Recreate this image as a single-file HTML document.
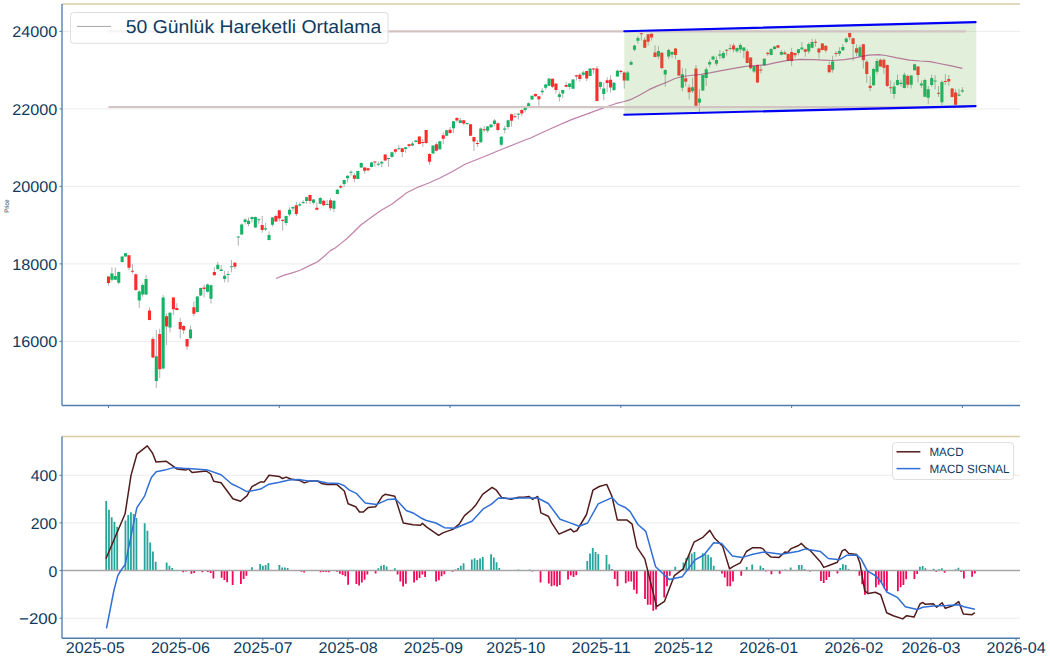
<!DOCTYPE html>
<html><head><meta charset="utf-8"><style>
html,body{margin:0;padding:0;background:#fff;width:1050px;height:660px;overflow:hidden}
svg{display:block}
text{font-family:"Liberation Sans",sans-serif;text-rendering:geometricPrecision}
</style></head><body>
<svg width="1050" height="660" viewBox="0 0 1050 660">
<rect width="1050" height="660" fill="#fff"/>

<line x1="62.0" y1="31.4" x2="1020.0" y2="31.4" stroke="#ebebeb" stroke-width="1"/>
<line x1="62.0" y1="108.9" x2="1020.0" y2="108.9" stroke="#ebebeb" stroke-width="1"/>
<line x1="62.0" y1="186.4" x2="1020.0" y2="186.4" stroke="#ebebeb" stroke-width="1"/>
<line x1="62.0" y1="263.9" x2="1020.0" y2="263.9" stroke="#ebebeb" stroke-width="1"/>
<line x1="62.0" y1="341.35" x2="1020.0" y2="341.35" stroke="#ebebeb" stroke-width="1"/>
<path d="M108.5 276V285.5M111.92 267.3V281.4M115.33 267.7V280M118.75 271.5V284.1M122.16 256V262.5M125.58 252.8V256.8M128.99 255V270M132.41 264.1V273.6M135.82 273.6V290.9M139.24 290V308M142.66 283.2V296.8M146.07 275V295M149.49 307.3V320.3M152.9 336.7V358.2M156.32 329.9V388.1M159.73 328.7V378M163.15 294.9V369.3M166.57 313.6V345.1M169.98 312V332.4M173.4 296.9V315.2M176.81 303.3V310.5M180.23 318V338.3M183.64 325V334M187.06 339V349.8M190.47 325.6V339.3M193.89 301.4V316.2M197.31 296V312.5M200.72 287.5V296M204.14 284.5V297.5M207.55 283.5V292.5M210.97 284.5V303.7M214.38 267.2V275.5M217.8 261.9V270.1M221.21 265V271M224.63 270.9V282.4M228.05 271V282.5M231.46 260V272.3M234.88 262V268.9M238.29 236.1V245.7M241.71 223.5V235M245.12 218.4V224.5M248.54 217.5V226.2M251.96 216.6V222.5M255.37 216.5V228M258.79 218.4V223.9M262.2 216V232.7M265.62 223V231M269.03 231.5V240.4M272.45 217V226.7M275.86 214.5V222M279.28 210.3V221.4M282.7 219.3V230.7M286.11 215.6V225.6M289.53 207.4V216.6M292.94 206.5V210.8M296.36 201.8V216.1M299.77 202.3V206.5M303.19 200.2V203.9M306.6 196.5V203.9M310.02 194.6V203.9M313.44 199V204.5M316.85 202.3V210.2M320.27 197V204.3M323.68 199.8V206.2M327.1 199.8V205.2M330.51 198V210.7M333.93 200.3V212.1M337.35 189V194.4M340.76 184.6V189M344.18 179.6V187M347.59 175.2V182.6M351.01 170.3V175.7M354.42 173.2V182.1M357.84 170.8V179.2M361.25 162.4V168M364.67 166.9V173.8M368.09 167.9V171.3M371.5 161.9V167.4M374.92 161V166.9M378.33 161.5V166.4M381.75 161.3V167.4M385.16 154.1V161M388.58 158V166.9M391.99 151.6V157.5M395.41 148.6V153.6M398.83 144.9V149.8M402.24 147.9V157.2M405.66 146.9V152.8M409.07 143.9V147.9M412.49 141.5V146.4M415.9 140V142.3M419.32 136.3V144.4M422.74 139V146.9M426.15 129.8V143.9M429.57 153.3V164.6M432.98 145.4V153.8M436.4 142.4V151.3M439.81 141V149.8M443.23 132.3V144.1M446.64 129.8V136.2M450.06 126.9V133.8M453.48 121V132.8M456.89 117V122.4M460.31 118V123.4M463.72 120V125.4M467.14 123V125.5M470.55 123.9V136.2M473.97 136.8V151.1M477.38 140.2V147M480.8 127.4V142.9M484.22 125.9V132M487.63 126V132.7M491.05 124V128M494.46 119.1V125.9M497.88 122.5V131.4M501.29 136.1V146.4M504.71 125.9V133.4M508.13 119.8V129.3M511.54 113.6V126.6M514.96 113V117.7M518.37 113V119.6M521.79 109.3V116.4M525.2 107.3V112.2M528.62 102.4V106.3M532.03 95.5V99.9M535.45 93.5V96.6M538.87 96V105.8M542.28 88.1V95M545.7 84.1V89.6M549.11 78.2V86.1M552.53 78.5V88.1M555.94 83.4V93.5M559.36 91.5V101.6M562.77 89.6V97.9M566.19 82.1V87.5M569.61 83.1V89.5M573.02 79.1V89M576.44 74.7V80.6M579.85 73.2V81.6M583.27 70.8V76.2M586.68 70.8V81.1M590.1 68.3V76.2M593.52 67.8V73.7M596.93 66V101.3M600.35 81.6V89.5M603.76 82.5V100.3M607.18 77.2V92.2M610.59 75.2V92.6M614.01 82V91M617.42 69.5V76.8M620.84 70V74M624.26 71.4V88.7M627.67 71V80.7M631.09 60.4V65.2M634.5 45V51.4M637.92 35.9V43.7M641.33 33V40.5M644.75 37.3V48M648.16 33.9V45.6M651.58 33.4V40.5M655 45.3V57.2M658.41 46.2V59.1M661.83 52V69.4M665.24 69.4V86.8M668.66 48.8V59.1M672.07 51.4V57.8M675.49 48.2V59.1M678.91 59.7V75.9M682.32 68.1V91.3M685.74 68.7V86.7M689.15 84.5V99.6M692.57 77.6V93.1M695.98 64.8V106M699.4 89.2V111.8M702.81 74.5V90.8M706.23 67.3V86M709.65 59.6V67.3M713.06 55.8V60.2M716.48 56.4V66.1M719.89 50V59M723.31 51.2V59.4M726.72 49.2V55.6M730.14 44V50.4M733.55 43.3V52.3M736.97 47.5V52.8M740.39 43.3V52.8M743.8 47V58.1M747.22 49.1V63.4M750.63 57V69.8M754.05 65.6V73M757.46 64.5V83M760.88 65V73.5M764.3 58.2V65.6M767.71 51.8V56M771.13 48.1V55.3M774.54 46V49.9M777.96 45V48.1M781.37 50V55.3M784.79 50.5V54.7M788.2 53.6V61.1M791.62 47.8V65.9M795.04 52.8V57.9M798.45 48.9V55.3M801.87 42V50.5M805.28 48.9V56.8M808.7 42.5V53.7M812.11 38.8V48.4M815.53 39.3V46.8M818.94 47.8V58.4M822.36 43.1V50.4M825.78 45.2V52.6M829.19 61.6V72.8M832.61 55.8V72.8M836.02 51V56.8M839.44 47.3V55.8M842.85 44.1V51M846.27 37.5V43.3M849.69 32.4V40.4M853.1 37.8V61M856.52 44.5V56M859.93 45V56.6M863.35 43.9V68.5M866.76 60.1V82.7M870.18 76.1V91.2M873.59 67.5V86M877.01 58.5V74.2M880.43 58.5V67M883.84 58.5V73.6M887.26 64.5V87M890.67 80.3V93.6M894.09 82.1V98.7M897.5 74.6V85.8M900.92 79.6V86.5M904.33 72.5V88.4M907.75 74.4V87.9M911.17 75.1V88.4M914.58 63.8V70.5M918 66.3V82.5M921.41 80.5V87.9M924.83 78.6V97.3M928.24 86V104.2M931.66 74.6V86.5M935.08 75.1V89.4M938.49 86V96.8M941.91 80.5V105.2M945.32 74.1V85M948.74 75.1V85.5M952.15 88V97.5M955.57 88.9V105.2M958.98 88.9V96.3M962.4 87.2V92.9" stroke="#a8a8a8" stroke-width="0.9" fill="none"/>
<path d="M110.37 273.4h3.1v6.3h-3.1zM113.78 275.9h3.1v3.8h-3.1zM117.2 272.1h3.1v10.6h-3.1zM120.61 256.4h3.1v5.7h-3.1zM124.03 253.2h3.1v3.2h-3.1zM137.69 291.4h3.1v9.2h-3.1zM141.11 285h3.1v9.5h-3.1zM144.52 279.1h3.1v15.4h-3.1zM154.77 356.3h3.1v24.6h-3.1zM161.6 297.4h3.1v71.1h-3.1zM168.43 312.8h3.1v14.8h-3.1zM188.92 329.5h3.1v8.8h-3.1zM195.76 296.4h3.1v15.5h-3.1zM199.17 287.9h3.1v7.7h-3.1zM206 284.5h3.1v7.2h-3.1zM209.42 285.3h3.1v13.4h-3.1zM216.25 264.8h3.1v4.2h-3.1zM219.66 269.4h3.1v1.5h-3.1zM223.08 275.8h3.1v3.2h-3.1zM226.5 274h3.1v1h-3.1zM229.91 266.25h3.1v1h-3.1zM236.74 236.5h3.1v1h-3.1zM240.16 224.5h3.1v9.9h-3.1zM243.57 219.4h3.1v2.7h-3.1zM246.99 220.7h3.1v3.2h-3.1zM250.41 217h3.1v2.1h-3.1zM253.82 217h3.1v10.5h-3.1zM257.24 219.35h3.1v1h-3.1zM264.07 228.3h3.1v1.1h-3.1zM267.48 235.1h3.1v4.8h-3.1zM270.9 217.4h3.1v7.4h-3.1zM284.56 215.9h3.1v7.1h-3.1zM287.98 209.7h3.1v4.8h-3.1zM291.39 207.1h3.1v1.4h-3.1zM298.22 204.2h3.1v1.3h-3.1zM301.64 201.9h3.1v1h-3.1zM305.05 197.2h3.1v3.8h-3.1zM311.89 199.4h3.1v3.4h-3.1zM318.72 197.9h3.1v5.9h-3.1zM325.55 203.9h3.1v1h-3.1zM332.38 200.8h3.1v7.9h-3.1zM335.8 189.7h3.1v4.2h-3.1zM342.63 180.1h3.1v4h-3.1zM346.04 175.7h3.1v2.5h-3.1zM349.46 171.85h3.1v1h-3.1zM356.29 171.1h3.1v7.9h-3.1zM359.7 162.9h3.1v4.7h-3.1zM369.95 162.4h3.1v4.5h-3.1zM376.78 163.8h3.1v1h-3.1zM380.2 161.7h3.1v1.9h-3.1zM387.03 157.95h3.1v1h-3.1zM390.44 152.2h3.1v4.9h-3.1zM397.28 148.3h3.1v1h-3.1zM404.11 147.2h3.1v1.9h-3.1zM410.94 143.4h3.1v2.2h-3.1zM414.35 140.5h3.1v1.5h-3.1zM431.43 145.6h3.1v7.9h-3.1zM438.26 141.3h3.1v8h-3.1zM445.09 130.3h3.1v5.4h-3.1zM451.93 121.3h3.1v7h-3.1zM458.76 120.3h3.1v2.6h-3.1zM465.59 123.05h3.1v1h-3.1zM479.25 128.4h3.1v13.8h-3.1zM486.08 126.6h3.1v4.1h-3.1zM489.5 124.5h3.1v2.8h-3.1zM492.91 120.5h3.1v3.4h-3.1zM499.74 136.8h3.1v7.9h-3.1zM503.16 128.4h3.1v1.3h-3.1zM506.58 120.2h3.1v6.8h-3.1zM516.82 113.7h3.1v1h-3.1zM523.65 107.8h3.1v2.2h-3.1zM527.07 103.3h3.1v2.8h-3.1zM530.48 95.7h3.1v3.9h-3.1zM540.73 90.8h3.1v1.5h-3.1zM544.15 84.6h3.1v3.2h-3.1zM547.56 78.5h3.1v7.3h-3.1zM557.81 94.2h3.1v2.7h-3.1zM561.22 90h3.1v3.6h-3.1zM568.06 83.6h3.1v3.4h-3.1zM571.47 79.4h3.1v9.3h-3.1zM581.72 72.5h3.1v2.2h-3.1zM588.55 68.6h3.1v7.3h-3.1zM598.8 82.1h3.1v4.9h-3.1zM602.21 88.6h3.1v5.4h-3.1zM612.46 82.7h3.1v7.3h-3.1zM615.87 70.7h3.1v5.8h-3.1zM626.12 72.4h3.1v8h-3.1zM629.54 62.1h3.1v2.6h-3.1zM632.95 45.6h3.1v4.1h-3.1zM636.37 38.1h3.1v2.6h-3.1zM656.86 51.1h3.1v5.5h-3.1zM663.69 70.1h3.1v4.5h-3.1zM667.11 50.1h3.1v6.5h-3.1zM670.52 52h3.1v2.6h-3.1zM680.77 74.3h3.1v13.5h-3.1zM691.02 87.3h3.1v3.9h-3.1zM697.85 98.5h3.1v4.3h-3.1zM701.26 75.1h3.1v15.4h-3.1zM704.68 69.3h3.1v8.6h-3.1zM708.1 61.9h3.1v2.6h-3.1zM711.51 56.4h3.1v3.2h-3.1zM714.93 59.9h3.1v3.8h-3.1zM718.34 54.2h3.1v1.6h-3.1zM721.76 52.9h3.1v5.2h-3.1zM728.59 47.95h3.1v1h-3.1zM735.42 48h3.1v3.2h-3.1zM738.84 44.9h3.1v4.7h-3.1zM742.25 47.5h3.1v3.2h-3.1zM752.5 66.1h3.1v5.3h-3.1zM762.75 58.7h3.1v6.5h-3.1zM769.58 48.9h3.1v6h-3.1zM772.99 46.6h3.1v2.5h-3.1zM779.82 52.1h3.1v2.6h-3.1zM796.9 49.2h3.1v3.9h-3.1zM800.32 47.5h3.1v1.7h-3.1zM807.15 44.1h3.1v7.4h-3.1zM810.56 42h3.1v5.8h-3.1zM831.06 61.6h3.1v8.2h-3.1zM837.89 51h3.1v2.7h-3.1zM841.3 47.1h3.1v3.2h-3.1zM844.72 38.6h3.1v3.4h-3.1zM858.38 47.2h3.1v9h-3.1zM872.04 69h3.1v16.2h-3.1zM875.46 60.9h3.1v10.9h-3.1zM892.54 86.6h3.1v7.3h-3.1zM895.95 79.9h3.1v5h-3.1zM899.37 82.8h3.1v1.1h-3.1zM902.78 74.8h3.1v13.1h-3.1zM909.62 75.4h3.1v9.3h-3.1zM913.03 64.3h3.1v5.9h-3.1zM919.86 83.5h3.1v2h-3.1zM923.28 80h3.1v16.8h-3.1zM926.69 89.2h3.1v8.6h-3.1zM930.11 78h3.1v7.1h-3.1zM933.53 80.5h3.1v1h-3.1zM940.36 82h3.1v20.2h-3.1zM957.43 94.5h3.1v1.3h-3.1zM960.85 90.2h3.1v1.4h-3.1z" fill="#16b266"/>
<path d="M106.95 276.4h3.1v6.6h-3.1zM127.44 255.2h3.1v12.5h-3.1zM130.86 270.85h3.1v1h-3.1zM134.27 274.3h3.1v15.7h-3.1zM147.94 310.5h3.1v9.5h-3.1zM151.35 339.1h3.1v18.3h-3.1zM158.18 334h3.1v35.3h-3.1zM165.02 316.3h3.1v10.1h-3.1zM171.85 297.4h3.1v11.8h-3.1zM175.26 308h3.1v2h-3.1zM178.68 322h3.1v7.2h-3.1zM182.09 325.9h3.1v4.3h-3.1zM185.51 339h3.1v7.5h-3.1zM192.34 307.2h3.1v6.6h-3.1zM202.59 287.4h3.1v1.5h-3.1zM212.83 272h3.1v3.2h-3.1zM233.33 262.7h3.1v4.1h-3.1zM260.65 225h3.1v5h-3.1zM274.31 216.1h3.1v5.3h-3.1zM277.73 210.3h3.1v8.1h-3.1zM281.15 219.8h3.1v1.1h-3.1zM294.81 205.2h3.1v8.8h-3.1zM308.47 195h3.1v6.1h-3.1zM315.3 207.7h3.1v2h-3.1zM322.13 200.8h3.1v4.4h-3.1zM328.96 200.3h3.1v7.9h-3.1zM339.21 186h3.1v1.5h-3.1zM352.87 175.2h3.1v3.6h-3.1zM363.12 167.4h3.1v3.4h-3.1zM366.54 168.3h3.1v2h-3.1zM373.37 161.5h3.1v1.1h-3.1zM383.61 154.6h3.1v5.9h-3.1zM393.86 149.2h3.1v2.6h-3.1zM400.69 148.2h3.1v3.9h-3.1zM407.52 144.2h3.1v1.7h-3.1zM417.77 136.5h3.1v7.4h-3.1zM421.19 142.05h3.1v1h-3.1zM424.6 130.1h3.1v12.8h-3.1zM428.02 154.1h3.1v7.6h-3.1zM434.85 144.2h3.1v6.6h-3.1zM441.68 135.2h3.1v3.5h-3.1zM448.51 129.8h3.1v3.3h-3.1zM455.34 118h3.1v2.5h-3.1zM462.17 120.3h3.1v3.3h-3.1zM469 124.2h3.1v11.5h-3.1zM472.42 137h3.1v4.5h-3.1zM475.83 142.95h3.1v1h-3.1zM482.67 129.3h3.1v1h-3.1zM496.33 123.2h3.1v6.8h-3.1zM509.99 114.3h3.1v6.4h-3.1zM513.41 116.3h3.1v1h-3.1zM520.24 109.9h3.1v3.7h-3.1zM533.9 94h3.1v2.3h-3.1zM537.32 96.3h3.1v2.9h-3.1zM550.98 78.7h3.1v8.1h-3.1zM554.39 83.6h3.1v6.4h-3.1zM564.64 85h3.1v1.7h-3.1zM574.89 75.2h3.1v1.3h-3.1zM578.3 74.7h3.1v4.4h-3.1zM585.13 71h3.1v7.6h-3.1zM591.97 68.6h3.1v1h-3.1zM595.38 68.6h3.1v32.5h-3.1zM605.63 80.3h3.1v2.7h-3.1zM609.04 79.7h3.1v7.8h-3.1zM619.29 70.7h3.1v1.3h-3.1zM622.71 72.6h3.1v7.8h-3.1zM639.78 33.35h3.1v1h-3.1zM643.2 39.8h3.1v7.9h-3.1zM646.61 34.3h3.1v7.4h-3.1zM650.03 33.8h3.1v3.8h-3.1zM653.45 52.4h3.1v4.5h-3.1zM660.28 52.7h3.1v15.4h-3.1zM673.94 48.6h3.1v6.3h-3.1zM677.36 60h3.1v15.5h-3.1zM684.19 78.3h3.1v3.5h-3.1zM687.6 87.4h3.1v4.9h-3.1zM694.43 68.4h3.1v37.3h-3.1zM725.17 49.8h3.1v1h-3.1zM732 45.4h3.1v4.1h-3.1zM745.67 51.2h3.1v11.7h-3.1zM749.08 57.4h3.1v10.8h-3.1zM755.91 65h3.1v17.5h-3.1zM759.33 69.5h3.1v1.1h-3.1zM766.16 52.8h3.1v1.1h-3.1zM776.41 45.2h3.1v2.6h-3.1zM783.24 52.4h3.1v1.8h-3.1zM786.65 53.9h3.1v6.7h-3.1zM790.07 52.1h3.1v9h-3.1zM793.49 53.1h3.1v2.2h-3.1zM803.73 49.2h3.1v2.6h-3.1zM813.98 41.8h3.1v1h-3.1zM817.39 48.4h3.1v4h-3.1zM820.81 43.6h3.1v6.3h-3.1zM824.23 45.7h3.1v4.8h-3.1zM827.64 65.1h3.1v7.1h-3.1zM834.47 53h3.1v1h-3.1zM848.14 33h3.1v4.2h-3.1zM851.55 38.2h3.1v5.8h-3.1zM854.97 48.2h3.1v4.6h-3.1zM861.8 44.3h3.1v16h-3.1zM865.21 61.8h3.1v12.1h-3.1zM868.63 85.8h3.1v2.1h-3.1zM878.88 59.7h3.1v6.7h-3.1zM882.29 59.7h3.1v8.1h-3.1zM885.71 64.9h3.1v21.1h-3.1zM889.12 87.2h3.1v1h-3.1zM906.2 76.1h3.1v8.6h-3.1zM916.45 66.6h3.1v8.5h-3.1zM936.94 92.85h3.1v1h-3.1zM943.77 81h3.1v1h-3.1zM947.19 79.1h3.1v2.4h-3.1zM950.6 88.4h3.1v8.7h-3.1zM954.02 92.6h3.1v12.1h-3.1z" fill="#ff2b2b"/>
<polygon points="624.3,31.2 976.3,22 976.3,106 624.3,114.7" fill="rgba(110,175,70,0.20)"/>
<polyline fill="none" stroke="rgba(140,25,100,0.55)" stroke-width="1.2" stroke-linejoin="round" points="276,278.5 283.6,275.4 293.9,272.4 300.7,270 307.5,266.6 317.7,261.8 324.5,256 330.7,250.4 334.8,248.2 340,244.1 346.7,238.75 353.3,232.5 360.8,225 368.3,219.6 380.8,210.4 391.7,204.2 403.3,195.4 406.7,192.7 416.7,187.7 428.7,183 440,178 453.3,171 465,164.3 470,162.3 485,156.3 505,148 525,140 530,138.3 550.5,128.7 570.9,119.9 591.4,112.4 605.2,107.2 615.5,103.7 624.3,101.5 630.4,99.7 639.3,95.2 649.5,89.4 656.4,86.4 666.8,82.3 675,78.5 682.5,76.5 690.7,75.5 700.9,74.4 711.1,72.7 721.4,70.7 735.2,68.2 745.5,66.3 755.7,65.5 765.9,64.8 776.1,62.7 786.4,60.7 800.2,59.4 813.9,59.6 824.1,60.1 832.3,60.5 844.5,59.6 852.7,58.3 861.8,56.4 868.6,55.1 878.9,54.7 885.7,55.5 895.9,57.7 909.5,60.1 920,61 930.2,61.6 939.2,63.5 951.4,65.9 962.3,68.3"/>
<line x1="108.5" y1="31.4" x2="965.8" y2="31.4" stroke="#d3c3c3" stroke-width="2.1"/>
<line x1="108.5" y1="107.0" x2="965.8" y2="107.0" stroke="#d3c3c3" stroke-width="2.1"/>
<line x1="624.3" y1="31.2" x2="975.6" y2="22.1" stroke="#0000f4" stroke-width="2.1" stroke-linecap="round"/>
<line x1="624.3" y1="114.7" x2="975.6" y2="106.1" stroke="#0000f4" stroke-width="2.1" stroke-linecap="round"/>
<line x1="62.0" y1="4.0" x2="1020.0" y2="4.0" stroke="#d8cba6" stroke-width="1.6"/>
<line x1="62.0" y1="4.0" x2="62.0" y2="405.5" stroke="#4f7cab" stroke-width="1.35"/>
<line x1="62.0" y1="405.5" x2="1020.0" y2="405.5" stroke="#4f7cab" stroke-width="1.35"/>
<line x1="59.5" y1="31.4" x2="62.0" y2="31.4" stroke="#4f7cab" stroke-width="1"/>
<text x="57.2" y="37.4" text-anchor="end" font-size="15.5" fill="#0e3a5e" textLength="45" lengthAdjust="spacingAndGlyphs">24000</text>
<line x1="59.5" y1="108.9" x2="62.0" y2="108.9" stroke="#4f7cab" stroke-width="1"/>
<text x="57.2" y="114.9" text-anchor="end" font-size="15.5" fill="#0e3a5e" textLength="45" lengthAdjust="spacingAndGlyphs">22000</text>
<line x1="59.5" y1="186.4" x2="62.0" y2="186.4" stroke="#4f7cab" stroke-width="1"/>
<text x="57.2" y="192.4" text-anchor="end" font-size="15.5" fill="#0e3a5e" textLength="45" lengthAdjust="spacingAndGlyphs">20000</text>
<line x1="59.5" y1="263.9" x2="62.0" y2="263.9" stroke="#4f7cab" stroke-width="1"/>
<text x="57.2" y="269.9" text-anchor="end" font-size="15.5" fill="#0e3a5e" textLength="45" lengthAdjust="spacingAndGlyphs">18000</text>
<line x1="59.5" y1="341.35" x2="62.0" y2="341.35" stroke="#4f7cab" stroke-width="1"/>
<text x="57.2" y="347.35" text-anchor="end" font-size="15.5" fill="#0e3a5e" textLength="45" lengthAdjust="spacingAndGlyphs">16000</text>
<line x1="108.5" y1="405.5" x2="108.5" y2="408.0" stroke="#4f7cab" stroke-width="1"/>
<line x1="279.28" y1="405.5" x2="279.28" y2="408.0" stroke="#4f7cab" stroke-width="1"/>
<line x1="450.06" y1="405.5" x2="450.06" y2="408.0" stroke="#4f7cab" stroke-width="1"/>
<line x1="620.84" y1="405.5" x2="620.84" y2="408.0" stroke="#4f7cab" stroke-width="1"/>
<line x1="791.62" y1="405.5" x2="791.62" y2="408.0" stroke="#4f7cab" stroke-width="1"/>
<line x1="962.4" y1="405.5" x2="962.4" y2="408.0" stroke="#4f7cab" stroke-width="1"/>
<text transform="translate(8.9,206.1) rotate(-90)" text-anchor="middle" font-size="6.6" fill="#333" textLength="13.2" lengthAdjust="spacingAndGlyphs">Price</text>
<rect x="70.5" y="12.5" width="317.5" height="30.8" rx="3" ry="3" fill="rgba(255,255,255,0.8)" stroke="#dedede" stroke-width="1"/>
<line x1="77" y1="26.4" x2="111" y2="26.4" stroke="#a6a6a6" stroke-width="1"/>
<text x="125.7" y="33.1" font-size="18.7" fill="#0e3a5e" textLength="255.5" lengthAdjust="spacingAndGlyphs">50 Günlük Hareketli Ortalama</text>
<line x1="62.0" y1="475.3" x2="1020.0" y2="475.3" stroke="#ebebeb" stroke-width="1"/>
<line x1="62.0" y1="522.9" x2="1020.0" y2="522.9" stroke="#ebebeb" stroke-width="1"/>
<line x1="62.0" y1="618.2" x2="1020.0" y2="618.2" stroke="#ebebeb" stroke-width="1"/>
<path d="M105.3 501h1.8V570.6h-1.8zM108.05 509.8h1.8V570.6h-1.8zM110.79 517.3h1.8V570.6h-1.8zM113.54 521.7h1.8V570.6h-1.8zM116.29 526.8h1.8V570.6h-1.8zM124.54 520.4h1.8V570.6h-1.8zM127.29 514.9h1.8V570.6h-1.8zM130.04 512.2h1.8V570.6h-1.8zM132.79 514.1h1.8V570.6h-1.8zM135.53 518h1.8V570.6h-1.8zM143.78 523.3h1.8V570.6h-1.8zM146.53 530.8h1.8V570.6h-1.8zM149.28 542.4h1.8V570.6h-1.8zM152.03 551.4h1.8V570.6h-1.8zM154.78 561.8h1.8V570.6h-1.8zM165.77 562.6h1.8V570.6h-1.8zM168.52 565.7h1.8V570.6h-1.8zM171.27 568.1h1.8V570.6h-1.8zM174.02 570h1.8V570.6h-1.8zM250.99 567.2h1.8V570.6h-1.8zM259.24 564h1.8V570.6h-1.8zM261.99 565.7h1.8V570.6h-1.8zM264.74 565.1h1.8V570.6h-1.8zM267.49 562.9h1.8V570.6h-1.8zM278.48 565.1h1.8V570.6h-1.8zM281.23 567.4h1.8V570.6h-1.8zM283.98 567.4h1.8V570.6h-1.8zM286.73 568h1.8V570.6h-1.8zM289.48 570h1.8V570.6h-1.8zM377.45 568.3h1.8V570.6h-1.8zM380.2 565.7h1.8V570.6h-1.8zM382.95 564.9h1.8V570.6h-1.8zM385.69 566.5h1.8V570.6h-1.8zM393.94 568.3h1.8V570.6h-1.8zM454.42 569.5h1.8V570.6h-1.8zM457.17 568h1.8V570.6h-1.8zM459.92 565.7h1.8V570.6h-1.8zM462.67 563.2h1.8V570.6h-1.8zM470.91 559.4h1.8V570.6h-1.8zM473.66 558.3h1.8V570.6h-1.8zM476.41 560h1.8V570.6h-1.8zM479.16 558.5h1.8V570.6h-1.8zM481.91 556.9h1.8V570.6h-1.8zM490.16 554.3h1.8V570.6h-1.8zM492.91 557.4h1.8V570.6h-1.8zM495.65 562.3h1.8V570.6h-1.8zM498.4 568h1.8V570.6h-1.8zM517.65 569.5h1.8V570.6h-1.8zM528.64 569.5h1.8V570.6h-1.8zM534.14 570.3h1.8V570.6h-1.8zM536.89 570.3h1.8V570.6h-1.8zM586.37 561.1h1.8V570.6h-1.8zM589.12 553.5h1.8V570.6h-1.8zM591.87 548h1.8V570.6h-1.8zM594.62 552h1.8V570.6h-1.8zM597.37 553.9h1.8V570.6h-1.8zM605.61 554.9h1.8V570.6h-1.8zM608.36 564.2h1.8V570.6h-1.8zM611.11 569.1h1.8V570.6h-1.8zM674.34 566.8h1.8V570.6h-1.8zM682.59 562.5h1.8V570.6h-1.8zM685.34 558h1.8V570.6h-1.8zM688.08 555.2h1.8V570.6h-1.8zM690.83 553.5h1.8V570.6h-1.8zM693.58 552.1h1.8V570.6h-1.8zM701.83 553.2h1.8V570.6h-1.8zM704.58 554.3h1.8V570.6h-1.8zM707.33 554.8h1.8V570.6h-1.8zM710.08 557.3h1.8V570.6h-1.8zM712.83 565.7h1.8V570.6h-1.8zM745.81 566.9h1.8V570.6h-1.8zM751.31 564.6h1.8V570.6h-1.8zM759.56 565.7h1.8V570.6h-1.8zM762.31 568h1.8V570.6h-1.8zM784.3 569.5h1.8V570.6h-1.8zM787.05 569.9h1.8V570.6h-1.8zM789.8 567.4h1.8V570.6h-1.8zM798.04 565.1h1.8V570.6h-1.8zM800.79 564.9h1.8V570.6h-1.8zM803.54 569.1h1.8V570.6h-1.8zM839.28 568h1.8V570.6h-1.8zM842.03 564.2h1.8V570.6h-1.8zM844.78 565.1h1.8V570.6h-1.8zM847.53 569.1h1.8V570.6h-1.8zM855.77 570.4h1.8V570.6h-1.8zM919 566.7h1.8V570.6h-1.8zM921.75 566h1.8V570.6h-1.8zM924.5 568.3h1.8V570.6h-1.8zM932.75 568.7h1.8V570.6h-1.8zM938.24 569.3h1.8V570.6h-1.8zM940.99 568.3h1.8V570.6h-1.8zM954.74 569.3h1.8V570.6h-1.8zM957.49 567.7h1.8V570.6h-1.8z" fill="#26a69a"/>
<path d="M182.27 570.6h1.8V572.3h-1.8zM185.02 570.6h1.8V571.4h-1.8zM190.52 570.6h1.8V573.7h-1.8zM193.26 570.6h1.8V572.9h-1.8zM201.51 570.6h1.8V572.2h-1.8zM207.01 570.6h1.8V572h-1.8zM209.76 570.6h1.8V573.1h-1.8zM212.51 570.6h1.8V578.6h-1.8zM220.75 570.6h1.8V577.7h-1.8zM223.5 570.6h1.8V580h-1.8zM226.25 570.6h1.8V582.3h-1.8zM231.75 570.6h1.8V585.1h-1.8zM240 570.6h1.8V584h-1.8zM242.75 570.6h1.8V578.9h-1.8zM245.49 570.6h1.8V575.7h-1.8zM300.48 570.6h1.8V571.8h-1.8zM303.22 570.6h1.8V572.6h-1.8zM305.97 570.6h1.8V571.1h-1.8zM308.72 570.6h1.8V571.1h-1.8zM319.72 570.6h1.8V572.3h-1.8zM322.47 570.6h1.8V572h-1.8zM325.22 570.6h1.8V572h-1.8zM327.97 570.6h1.8V572.2h-1.8zM336.21 570.6h1.8V571.8h-1.8zM338.96 570.6h1.8V573.7h-1.8zM341.71 570.6h1.8V574.9h-1.8zM344.46 570.6h1.8V576.3h-1.8zM347.21 570.6h1.8V584.8h-1.8zM355.46 570.6h1.8V584h-1.8zM358.2 570.6h1.8V585.5h-1.8zM360.95 570.6h1.8V582.5h-1.8zM363.7 570.6h1.8V579.8h-1.8zM366.45 570.6h1.8V574.5h-1.8zM374.7 570.6h1.8V573.4h-1.8zM396.69 570.6h1.8V574.5h-1.8zM399.44 570.6h1.8V581.4h-1.8zM402.19 570.6h1.8V586.6h-1.8zM404.94 570.6h1.8V583.7h-1.8zM413.18 570.6h1.8V582.5h-1.8zM415.93 570.6h1.8V580.2h-1.8zM418.68 570.6h1.8V577.9h-1.8zM421.43 570.6h1.8V574.5h-1.8zM424.18 570.6h1.8V577.1h-1.8zM435.18 570.6h1.8V581.4h-1.8zM437.93 570.6h1.8V580.2h-1.8zM440.67 570.6h1.8V576.3h-1.8zM443.42 570.6h1.8V574.3h-1.8zM451.67 570.6h1.8V571.8h-1.8zM509.4 570.6h1.8V571.1h-1.8zM512.15 570.6h1.8V571.1h-1.8zM531.39 570.6h1.8V571.4h-1.8zM539.64 570.6h1.8V582.5h-1.8zM547.89 570.6h1.8V583.4h-1.8zM550.63 570.6h1.8V586.3h-1.8zM553.38 570.6h1.8V585.5h-1.8zM556.13 570.6h1.8V586.6h-1.8zM558.88 570.6h1.8V585.1h-1.8zM567.13 570.6h1.8V579.4h-1.8zM569.88 570.6h1.8V575.4h-1.8zM572.63 570.6h1.8V577.1h-1.8zM575.38 570.6h1.8V575.2h-1.8zM613.86 570.6h1.8V578.9h-1.8zM616.61 570.6h1.8V586.3h-1.8zM624.86 570.6h1.8V583.2h-1.8zM627.61 570.6h1.8V581.5h-1.8zM630.36 570.6h1.8V581.5h-1.8zM633.1 570.6h1.8V589.7h-1.8zM635.85 570.6h1.8V593.8h-1.8zM644.1 570.6h1.8V598.9h-1.8zM646.85 570.6h1.8V604.7h-1.8zM649.6 570.6h1.8V604.7h-1.8zM652.35 570.6h1.8V610.7h-1.8zM655.1 570.6h1.8V609.4h-1.8zM663.34 570.6h1.8V597.5h-1.8zM666.09 570.6h1.8V586.2h-1.8zM668.84 570.6h1.8V575.7h-1.8zM721.07 570.6h1.8V573.4h-1.8zM723.82 570.6h1.8V577.5h-1.8zM726.57 570.6h1.8V586.2h-1.8zM729.32 570.6h1.8V586.3h-1.8zM732.07 570.6h1.8V581.4h-1.8zM740.32 570.6h1.8V575.7h-1.8zM765.06 570.6h1.8V571.4h-1.8zM770.55 570.6h1.8V574.3h-1.8zM778.8 570.6h1.8V573.7h-1.8zM809.04 570.6h1.8V571.4h-1.8zM820.04 570.6h1.8V581.1h-1.8zM822.79 570.6h1.8V582.9h-1.8zM825.53 570.6h1.8V580h-1.8zM828.28 570.6h1.8V577.1h-1.8zM836.53 570.6h1.8V573.4h-1.8zM858.52 570.6h1.8V575.7h-1.8zM861.27 570.6h1.8V584.3h-1.8zM864.02 570.6h1.8V594.7h-1.8zM866.77 570.6h1.8V592.7h-1.8zM875.02 570.6h1.8V587.3h-1.8zM877.77 570.6h1.8V584.7h-1.8zM880.51 570.6h1.8V582h-1.8zM883.26 570.6h1.8V588.3h-1.8zM886.01 570.6h1.8V591.3h-1.8zM897.01 570.6h1.8V591.3h-1.8zM899.76 570.6h1.8V587.3h-1.8zM902.51 570.6h1.8V585.1h-1.8zM905.26 570.6h1.8V579.3h-1.8zM913.5 570.6h1.8V578.9h-1.8zM916.25 570.6h1.8V574h-1.8zM935.49 570.6h1.8V571.7h-1.8zM943.74 570.6h1.8V572.7h-1.8zM960.24 570.6h1.8V572h-1.8zM962.98 570.6h1.8V578.4h-1.8zM971.23 570.6h1.8V576.7h-1.8zM973.98 570.6h1.8V573.6h-1.8z" fill="#f0085a"/>
<line x1="62.0" y1="570.6" x2="1020.0" y2="570.6" stroke="#a6a6a6" stroke-width="1.5"/>
<polyline fill="none" stroke="#531c1c" stroke-width="1.5" stroke-linejoin="round" points="105.9,558.7 125.1,513.8 131,475.4 136.9,454.2 147.3,445.9 152.6,453.3 156.1,462.1 166.4,461.3 173.8,466.6 176.8,468.9 185.6,470.1 188.6,468.9 192.1,472.5 206.3,471 210.7,474 213.7,481.3 221.1,482.8 232.9,498.7 240.5,501.3 247.1,495.6 251.9,486.7 260.5,481.9 264.3,481.9 269,475.2 279.5,476.6 282.4,478.5 286.2,477.1 291,479 299.5,480.4 304.3,482.9 310,481 317.6,481 321.4,483.4 327.1,484.4 336.7,484.4 344.3,491 348.1,503.8 355.7,506.7 359.5,512 363.3,512 368.1,507.6 375.7,506.7 382.4,496.2 385.2,494.3 394.8,496.2 403.3,522.9 412.9,524.8 420.5,525.3 422.4,523.4 426.4,526.9 438.7,535.3 443.3,532.6 452.9,529.4 459.2,524.1 464.5,515.6 472,509.2 476.2,504.4 482.6,494.4 492.1,487.4 496.4,490.2 501.7,497.6 511.2,499.3 518.6,497.2 523.9,497.2 529.2,496.5 532.4,499.3 537.7,496.5 540.9,512.9 548.3,516.2 551.5,522.6 559,534.1 570.6,529 573.8,531.9 577,530.5 586.5,514.5 592.9,490.2 599.3,486.5 606.7,484.4 612,496.5 617.3,519.9 626.8,519.9 632.1,524.1 636.9,547.1 644.8,558.9 656.6,606.6 664.5,601.3 674.3,575.7 683.2,568.8 694,542.2 702.9,537.3 709.8,530.4 714.7,538.3 722.6,546.1 729.5,568.8 733.4,566.3 740.3,562.9 746.4,551.5 752.3,547.8 760.3,547.8 763.1,548.9 766.6,553.5 771.1,557.1 779.1,557.4 784.9,552 787.7,552.6 791.1,548.6 798.6,545.5 801.4,543.4 804.9,547.1 810,550.3 820.3,561.7 823.7,567.4 828.3,565.7 837.4,562.3 842.3,550.6 845.1,549.5 848.8,553.5 856.7,554.4 860,563.3 864.7,590.7 868,593.6 875.3,592.3 880.7,594.7 886.7,612.7 893.3,615.7 902.7,618.9 906.7,615.7 914,617.1 920,604 922.7,602.4 925.3,604.3 933.3,603.7 936.7,607.3 942,602.7 945.3,608.3 953.3,605.6 958.7,601.6 963.3,614 972,614.7 974.9,612.7"/>
<polyline fill="none" stroke="#2f6fd6" stroke-width="1.5" stroke-linejoin="round" points="106.5,628.4 114,590 117.7,575.9 120,571.8 125.2,564.5 136.8,507.9 144.7,495.8 147.7,487.3 151.4,477.6 156.2,471.8 164.7,470.1 173.2,467.6 185,468.5 188.6,468.6 207.8,470.1 221.1,474.8 231.4,483.7 239.5,487.6 246.2,491.4 251,491 260.5,489.1 269,484.2 279.5,482.3 289,480 298.6,479.6 308.1,481 317.6,481 327.1,482.9 338.6,483.4 344.3,485.7 349,489.9 356.7,493.7 365.2,502.9 376.7,504.4 388.1,499.4 395.7,499 406.2,510.5 413.8,513.3 420.5,517.7 426.4,520.5 435.9,523 444.4,527.7 455,528.3 463.5,524.7 472,521.3 483.6,508.6 491.1,504.4 498.5,498 509.1,498.6 519.7,498 537.7,498 548.3,503.5 560,519.2 569.6,522.6 579.1,526.2 587.6,523 598.2,503.9 612,497.6 618.3,504.4 625.8,507.8 630,511.3 637.9,524.5 645.8,531.4 655.6,566.8 669.4,579.6 682.2,576.7 695,559.9 703.9,555 713.7,542.8 721.6,543.6 732.4,556 742.6,557.4 752.9,554.3 764.3,552 781.4,554.3 798.6,551.2 805.4,548.9 820.3,551.4 828.3,558.5 839.7,559.7 846.7,555.3 856.7,554.9 861.3,559.3 867.3,570.9 876,576 881.3,582.4 886.7,592 897.3,597.3 905.3,606.7 917.3,609.6 922.7,607.3 933.3,606 946.7,605.6 958.7,604.7 964,606.7 974.9,609.3"/>
<line x1="62.0" y1="436.5" x2="1020.0" y2="436.5" stroke="#d8cba6" stroke-width="1.6"/>
<line x1="62.0" y1="436.5" x2="62.0" y2="638.2" stroke="#4f7cab" stroke-width="1.35"/>
<line x1="62.0" y1="638.2" x2="1020.0" y2="638.2" stroke="#4f7cab" stroke-width="1.35"/>
<line x1="59.5" y1="475.3" x2="62.0" y2="475.3" stroke="#4f7cab" stroke-width="1"/>
<text x="57.2" y="481.3" text-anchor="end" font-size="15.5" fill="#0e3a5e" textLength="26.5" lengthAdjust="spacingAndGlyphs">400</text>
<line x1="59.5" y1="522.9" x2="62.0" y2="522.9" stroke="#4f7cab" stroke-width="1"/>
<text x="57.2" y="528.9" text-anchor="end" font-size="15.5" fill="#0e3a5e" textLength="26.5" lengthAdjust="spacingAndGlyphs">200</text>
<line x1="59.5" y1="570.6" x2="62.0" y2="570.6" stroke="#4f7cab" stroke-width="1"/>
<text x="57.2" y="576.6" text-anchor="end" font-size="15.5" fill="#0e3a5e" textLength="8.8" lengthAdjust="spacingAndGlyphs">0</text>
<line x1="59.5" y1="618.2" x2="62.0" y2="618.2" stroke="#4f7cab" stroke-width="1"/>
<text x="57.2" y="624.2" text-anchor="end" font-size="15.5" fill="#0e3a5e" textLength="38.2" lengthAdjust="spacingAndGlyphs">−200</text>
<line x1="95.2" y1="638.2" x2="95.2" y2="640.7" stroke="#4f7cab" stroke-width="1"/>
<text x="95.2" y="653.4" text-anchor="middle" font-size="15.5" fill="#0e3a5e" textLength="59" lengthAdjust="spacingAndGlyphs">2025-05</text>
<line x1="180.42" y1="638.2" x2="180.42" y2="640.7" stroke="#4f7cab" stroke-width="1"/>
<text x="180.42" y="653.4" text-anchor="middle" font-size="15.5" fill="#0e3a5e" textLength="59" lengthAdjust="spacingAndGlyphs">2025-06</text>
<line x1="262.89" y1="638.2" x2="262.89" y2="640.7" stroke="#4f7cab" stroke-width="1"/>
<text x="262.89" y="653.4" text-anchor="middle" font-size="15.5" fill="#0e3a5e" textLength="59" lengthAdjust="spacingAndGlyphs">2025-07</text>
<line x1="348.11" y1="638.2" x2="348.11" y2="640.7" stroke="#4f7cab" stroke-width="1"/>
<text x="348.11" y="653.4" text-anchor="middle" font-size="15.5" fill="#0e3a5e" textLength="59" lengthAdjust="spacingAndGlyphs">2025-08</text>
<line x1="433.33" y1="638.2" x2="433.33" y2="640.7" stroke="#4f7cab" stroke-width="1"/>
<text x="433.33" y="653.4" text-anchor="middle" font-size="15.5" fill="#0e3a5e" textLength="59" lengthAdjust="spacingAndGlyphs">2025-09</text>
<line x1="515.8" y1="638.2" x2="515.8" y2="640.7" stroke="#4f7cab" stroke-width="1"/>
<text x="515.8" y="653.4" text-anchor="middle" font-size="15.5" fill="#0e3a5e" textLength="59" lengthAdjust="spacingAndGlyphs">2025-10</text>
<line x1="601.02" y1="638.2" x2="601.02" y2="640.7" stroke="#4f7cab" stroke-width="1"/>
<text x="601.02" y="653.4" text-anchor="middle" font-size="15.5" fill="#0e3a5e" textLength="59" lengthAdjust="spacingAndGlyphs">2025-11</text>
<line x1="683.49" y1="638.2" x2="683.49" y2="640.7" stroke="#4f7cab" stroke-width="1"/>
<text x="683.49" y="653.4" text-anchor="middle" font-size="15.5" fill="#0e3a5e" textLength="59" lengthAdjust="spacingAndGlyphs">2025-12</text>
<line x1="768.71" y1="638.2" x2="768.71" y2="640.7" stroke="#4f7cab" stroke-width="1"/>
<text x="768.71" y="653.4" text-anchor="middle" font-size="15.5" fill="#0e3a5e" textLength="59" lengthAdjust="spacingAndGlyphs">2026-01</text>
<line x1="853.92" y1="638.2" x2="853.92" y2="640.7" stroke="#4f7cab" stroke-width="1"/>
<text x="853.92" y="653.4" text-anchor="middle" font-size="15.5" fill="#0e3a5e" textLength="59" lengthAdjust="spacingAndGlyphs">2026-02</text>
<line x1="930.9" y1="638.2" x2="930.9" y2="640.7" stroke="#4f7cab" stroke-width="1"/>
<text x="930.9" y="653.4" text-anchor="middle" font-size="15.5" fill="#0e3a5e" textLength="59" lengthAdjust="spacingAndGlyphs">2026-03</text>
<line x1="1016.12" y1="638.2" x2="1016.12" y2="640.7" stroke="#4f7cab" stroke-width="1"/>
<text x="1016.12" y="653.4" text-anchor="middle" font-size="15.5" fill="#0e3a5e" textLength="59" lengthAdjust="spacingAndGlyphs">2026-04</text>
<rect x="892.6" y="442.6" width="121" height="36.9" rx="3" ry="3" fill="rgba(255,255,255,0.8)" stroke="#dedede" stroke-width="1"/>
<line x1="896.5" y1="451.8" x2="920.4" y2="451.8" stroke="#531c1c" stroke-width="1.5"/>
<line x1="896.5" y1="468.6" x2="920.4" y2="468.6" stroke="#2f6fd6" stroke-width="1.5"/>
<text x="929.5" y="456" font-size="12" fill="#0e3a5e" textLength="34" lengthAdjust="spacingAndGlyphs">MACD</text>
<text x="929.5" y="472.8" font-size="12" fill="#0e3a5e" textLength="80" lengthAdjust="spacingAndGlyphs">MACD SIGNAL</text>
</svg></body></html>
